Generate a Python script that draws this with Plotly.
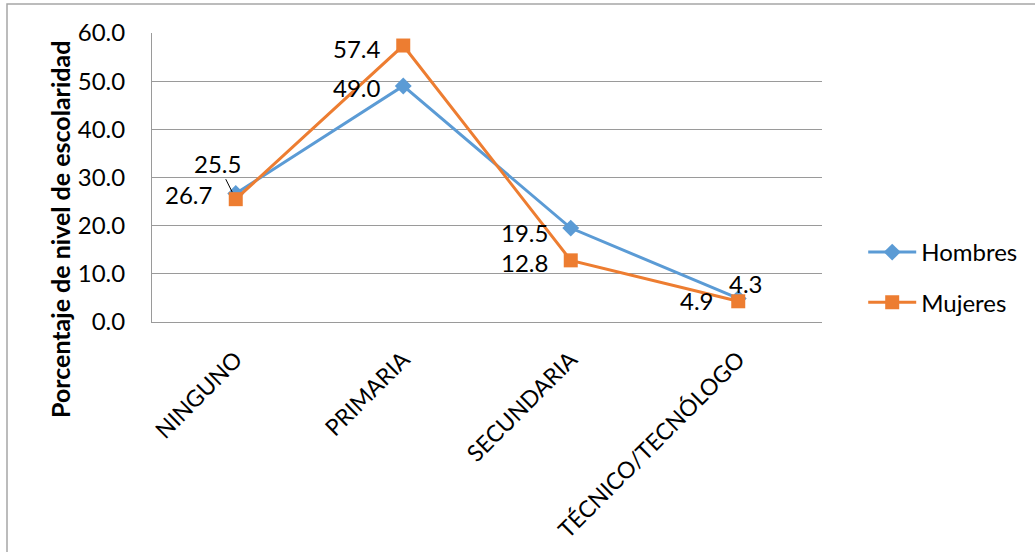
import plotly.graph_objects as go

categories = ["NINGUNO", "PRIMARIA", "SECUNDARIA", "TÉCNICO/TECNÓLOGO"]
hombres = [26.7, 49.0, 19.5, 4.9]
mujeres = [25.5, 57.4, 12.8, 4.3]

BLUE = "#5B9BD5"
ORANGE = "#ED7D31"
FONT = "Lato"
GRID = "#9A9A9A"

W, H = 1035, 552
L, R, T, B = 152, 213, 33, 230
pw, ph = W - L - R, H - T - B

fig = go.Figure()
fig.add_trace(go.Scatter(
    x=categories, y=hombres, name="Hombres", mode="lines+markers",
    line=dict(color=BLUE, width=3),
    marker=dict(symbol="diamond", size=13, color=BLUE),
    legendgroup="h",
))
fig.add_trace(go.Scatter(
    x=categories, y=mujeres, name="Mujeres", mode="lines+markers",
    line=dict(color=ORANGE, width=3),
    marker=dict(symbol="square", size=14, color=ORANGE),
    legendgroup="m",
))

LBL = dict(family=FONT, size=24, color="#000000")
# data labels: (series values, index, xshift, yshift)
label_pos = [
    (hombres, 0, -47, -1),
    (hombres, 1, -46, -2),
    (hombres, 2, -46, -4),
    (hombres, 3, -41, -2),
    (mujeres, 1, -46, -3),
    (mujeres, 2, -46, -2),
    (mujeres, 3, 8, 18),
]
anns = []
for vals, i, xs, ys in label_pos:
    anns.append(dict(x=categories[i], y=vals[i], text=f"{vals[i]:.1f}",
                     showarrow=False, xshift=xs, yshift=ys, font=LBL))
# leader-line label for Mujeres NINGUNO
anns.append(dict(x=categories[0], y=mujeres[0], text=f"{mujeres[0]:.1f}",
                 showarrow=True, arrowhead=0, arrowwidth=1, arrowcolor="#000000",
                 ax=-18, ay=-36, standoff=8, font=LBL))
# y-axis title
anns.append(dict(xref="paper", yref="paper", x=(60 - L) / pw, y=(H - B - 230) / ph,
                 xanchor="center", yanchor="middle",
                 text="<b>Porcentaje de nivel de escolaridad</b>", textangle=-90,
                 showarrow=False, font=dict(family=FONT, size=25, color="#000000")))

fig.update_layout(
    width=W, height=H,
    margin=dict(l=L, r=R, t=T, b=B, autoexpand=False),
    paper_bgcolor="white", plot_bgcolor="white",
    font=dict(family=FONT, size=24, color="#000000"),
    showlegend=True,
    legend=dict(x=1.0615, xanchor="left", y=(H - B - 325) / ph, yanchor="bottom",
                font=dict(family=FONT, size=24), tracegroupgap=16,
                bgcolor="rgba(0,0,0,0)", itemwidth=48),
    annotations=anns,
    shapes=[dict(type="rect", xref="paper", yref="paper",
                 x0=(7 - L) / pw, x1=1.5, y0=-1.2, y1=1 + (T - 4) / ph,
                 line=dict(color="#A6A6A6", width=1.5), fillcolor="rgba(0,0,0,0)",
                 layer="below")],
)
fig.update_xaxes(
    type="category", range=[-0.5, 3.5], tickangle=-45,
    showline=True, linecolor=GRID, linewidth=1, showgrid=False,
    ticks="", ticklabelstandoff=14,
    tickfont=dict(family=FONT, size=23),
)
fig.update_yaxes(
    range=[0, 60], dtick=10, tickformat=".1f",
    showline=True, linecolor=GRID, linewidth=1,
    showgrid=True, gridcolor=GRID, gridwidth=1,
    ticks="", ticklabelstandoff=21, zeroline=False,
    tickfont=dict(family=FONT, size=24),
)

fig.write_html("out.html")
